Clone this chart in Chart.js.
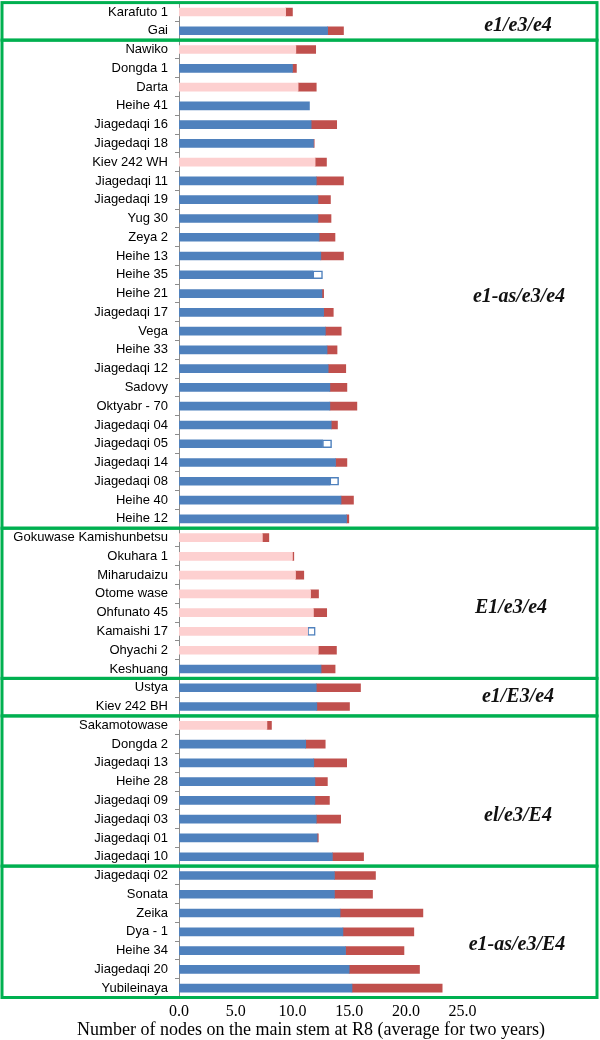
<!DOCTYPE html>
<html>
<head>
<meta charset="utf-8">
<script src="https://cdn.jsdelivr.net/npm/chart.js@4.4.1/dist/chart.umd.min.js"></script>
<style>
  html, body { margin: 0; padding: 0; background: #fff; }
</style>
</head>
<body>
<canvas id="grafico" width="600" height="1040"></canvas>
<script>
const cultivars = [
  "Karafuto 1", "Gai",
  "Nawiko", "Dongda 1", "Darta", "Heihe 41", "Jiagedaqi 16", "Jiagedaqi 18", "Kiev 242 WH",
  "Jiagedaqi 11", "Jiagedaqi 19", "Yug 30", "Zeya 2", "Heihe 13", "Heihe 35", "Heihe 21",
  "Jiagedaqi 17", "Vega", "Heihe 33", "Jiagedaqi 12", "Sadovy", "Oktyabr - 70", "Jiagedaqi 04",
  "Jiagedaqi 05", "Jiagedaqi 14", "Jiagedaqi 08", "Heihe 40", "Heihe 12",
  "Gokuwase Kamishunbetsu", "Okuhara 1", "Miharudaizu", "Otome wase", "Ohfunato 45",
  "Kamaishi 17", "Ohyachi 2", "Keshuang",
  "Ustya", "Kiev 242 BH",
  "Sakamotowase", "Dongda 2", "Jiagedaqi 13", "Heihe 28", "Jiagedaqi 09", "Jiagedaqi 03",
  "Jiagedaqi 01", "Jiagedaqi 10",
  "Jiagedaqi 02", "Sonata", "Zeika", "Dya - 1", "Heihe 34", "Jiagedaqi 20", "Yubileinaya"
];

// lower of the two years
const baseNodes = [
  9.4, 13.1,
  10.3, 10.0, 10.5, 11.5, 11.65, 11.85, 12.0,
  12.1, 12.25, 12.25, 12.35, 12.5, 11.8, 12.6,
  12.75, 12.9, 13.05, 13.15, 13.3, 13.3, 13.42,
  12.65, 13.8, 13.3, 14.28, 14.77,
  7.35, 10.0, 10.27, 11.6, 11.85,
  11.34, 12.28, 12.52,
  12.1, 12.15,
  7.75, 11.17, 11.88, 11.98, 11.98, 12.1,
  12.18, 13.52,
  13.7, 13.7, 14.2, 14.45, 14.68, 15.0, 15.25
];

// extra nodes (red part)
const increase = [
  0.6, 1.4,
  1.75, 0.35, 1.6, 0, 2.25, 0.07, 1.0,
  2.4, 1.1, 1.15, 1.4, 2.0, 0, 0.15,
  0.85, 1.4, 0.88, 1.55, 1.5, 2.38, 0.55,
  0, 1.0, 0, 1.1, 0.2,
  0.57, 0.12, 0.73, 0.7, 1.17,
  0, 1.6, 1.24,
  3.9, 2.88,
  0.4, 1.72, 2.9, 1.1, 1.28, 2.15,
  0.1, 2.75,
  3.62, 3.36, 7.3, 6.25, 5.15, 6.2, 7.95
];

// hollow boxes
const decrease = [
  0, 0,
  0, 0, 0, 0, 0, 0, 0,
  0, 0, 0, 0, 0, 0.85, 0,
  0, 0, 0, 0, 0, 0, 0,
  0.8, 0, 0.77, 0, 0,
  0, 0, 0, 0, 0,
  0.67, 0, 0,
  0, 0,
  0, 0, 0, 0, 0, 0,
  0, 0,
  0, 0, 0, 0, 0, 0, 0
];

const pinkCultivars = [
  "Karafuto 1", "Nawiko", "Darta", "Kiev 242 WH", "Gokuwase Kamishunbetsu", "Okuhara 1",
  "Miharudaizu", "Otome wase", "Ohfunato 45", "Kamaishi 17", "Ohyachi 2", "Sakamotowase"
];

const groupNames = ["e1/e3/e4", "e1-as/e3/e4", "E1/e3/e4", "e1/E3/e4", "el/e3/E4", "e1-as/e3/E4"];
const groupFirst = [0, 2, 28, 36, 38, 46];
const groupLast  = [1, 27, 35, 37, 45, 52];

const xTicks = [0, 5, 10, 15, 20, 25];
const xTitle = "Number of nodes on the main stem at R8 (average for two years)";

const BLUE = "#4f81bd";
const PINK = "#fdd0d0";
const RED  = "#c0504d";
const GREEN = "#00b050";
const SERIF = '"Liberation Serif", "Times New Roman", serif';

// where each group label sits (row, x centre)
const labelRows = [0.75, 15.2, 31.75, 36.5, 42.8, 49.7];
const labelXs   = [518, 519, 511, 518, 518, 517];

const decorations = {
  id: "decorations",
  afterDraw(chart) {
    const ctx = chart.ctx;
    const y = chart.scales.y;
    const step = y.getPixelForValue(1) - y.getPixelForValue(0);
    ctx.save();
    ctx.strokeStyle = GREEN;
    ctx.lineWidth = 3;
    ctx.font = "italic bold 20px " + SERIF;
    ctx.textAlign = "center";
    ctx.textBaseline = "middle";
    ctx.fillStyle = "#111";
    groupNames.forEach((name, i) => {
      const top = Math.max(1.5, y.getPixelForValue(groupFirst[i]) - step / 2);
      const bottom = Math.min(chart.height - 1.5, y.getPixelForValue(groupLast[i]) + step / 2);
      ctx.strokeRect(2, top, 595, bottom - top);
      ctx.fillText(name, labelXs[i], y.getPixelForValue(labelRows[i]));
    });
    // axis title, wider than the plot so drawn here
    ctx.font = "18px " + SERIF;
    ctx.fillStyle = "#000";
    ctx.fillText(xTitle, 311, 1030);
    ctx.restore();
  }
};

new Chart(document.getElementById("grafico"), {
  type: "bar",
  data: {
    labels: cultivars,
    datasets: [
      {
        label: "base",
        data: baseNodes,
        backgroundColor: cultivars.map(c => pinkCultivars.includes(c) ? PINK : BLUE),
        barThickness: 8
      },
      {
        label: "increase",
        data: increase.map(v => v > 0 ? v : null),
        backgroundColor: RED,
        barThickness: 8
      },
      {
        label: "decrease",
        data: decrease.map(v => v > 0 ? v : null),
        backgroundColor: "#ffffff",
        borderColor: BLUE,
        borderWidth: 1.5,
        borderSkipped: false,
        barThickness: 8
      }
    ]
  },
  options: {
    indexAxis: "y",
    responsive: false,
    animation: false,
    devicePixelRatio: 1,
    layout: { padding: { top: 2.6, right: 137.4, bottom: 0, left: 0 } },
    plugins: {
      legend: { display: false },
      tooltip: { enabled: false }
    },
    scales: {
      x: {
        stacked: true,
        min: 0,
        max: 25,
        afterBuildTicks: scale => { scale.ticks = xTicks.map(v => ({ value: v })); },
        afterFit: scale => { scale.height = 42.5; },
        grid: { display: false, drawTicks: false },
        border: { display: false },
        ticks: {
          padding: 5,
          color: "#000",
          font: { family: SERIF, size: 16 },
          callback: v => Number(v).toFixed(1)
        }
      },
      y: {
        stacked: true,
        afterFit: scale => {
          scale.width = 179;
          // no extra room above/below for the first and last label
          scale.paddingTop = 0;
          scale.paddingBottom = 0;
        },
        grid: {
          offset: true,
          drawOnChartArea: false,
          drawTicks: true,
          tickLength: 4,
          color: "#8c8c8c"
        },
        border: { display: true, color: "#8c8c8c", width: 1 },
        ticks: {
          autoSkip: false,
          padding: 7,
          color: "#000",
          font: { family: '"Liberation Sans", Arial, sans-serif', size: 13 }
        }
      }
    }
  },
  plugins: [decorations]
});
</script>
</body>
</html>
